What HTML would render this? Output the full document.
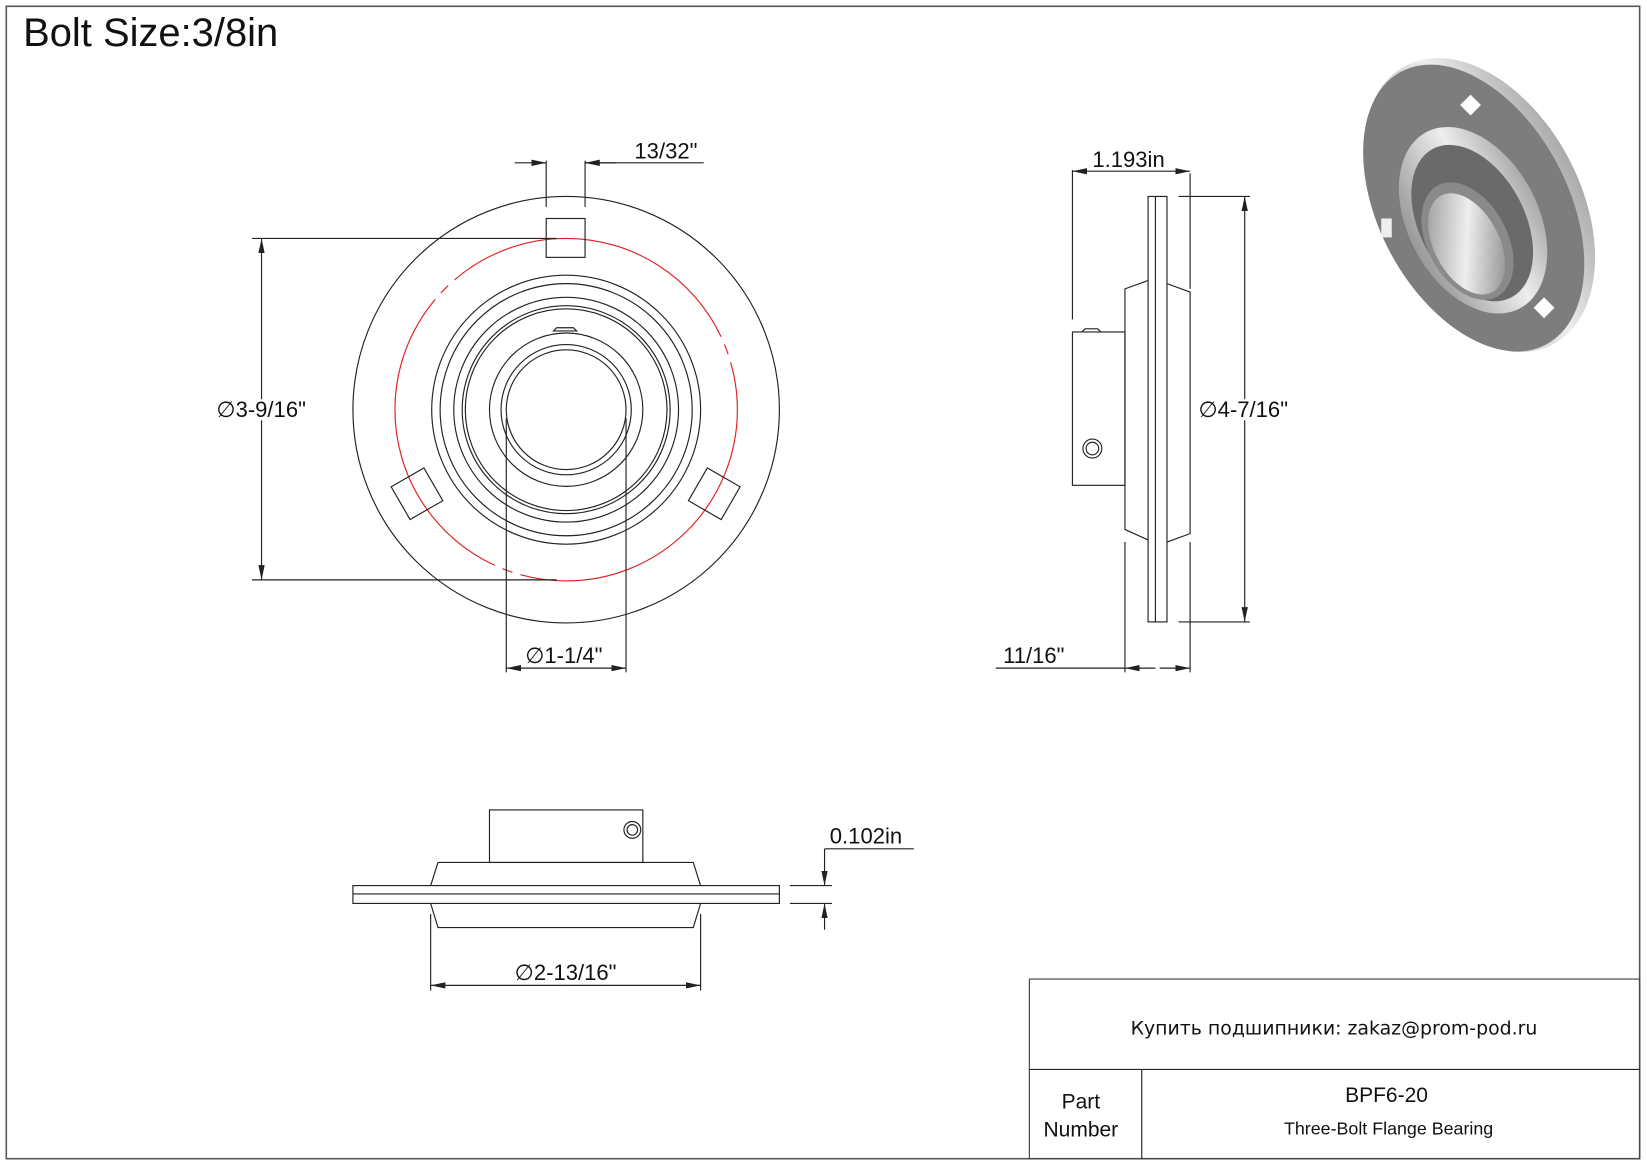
<!DOCTYPE html>
<html><head><meta charset="utf-8"><style>html,body{margin:0;padding:0;background:#fff}svg{display:block}text{font-family:"Liberation Sans",sans-serif;fill:#111}</style></head><body>
<svg width="1647" height="1165" viewBox="0 0 1568 1109" preserveAspectRatio="none" xmlns="http://www.w3.org/2000/svg">
<defs><marker id="a" markerWidth="14" markerHeight="6" refX="14" refY="3" orient="auto" markerUnits="userSpaceOnUse"><path d="M0,0 L14,3 L0,6 z" fill="#222"/></marker>
<linearGradient id="s" x1="0" y1="0" x2="1" y2="1"><stop offset="0" stop-color="#888"/><stop offset="0.5" stop-color="#eee"/><stop offset="1" stop-color="#777"/></linearGradient>
<linearGradient id="r" x1="0" y1="0" x2="1" y2="0"><stop offset="0" stop-color="#999"/><stop offset="0.6" stop-color="#eee"/><stop offset="1" stop-color="#aaa"/></linearGradient></defs>
<rect x="6" y="6" width="1555" height="1097" fill="none" stroke="#555" stroke-width="1.5"/>
<text x="22" y="44" font-size="38">Bolt Size:3/8in</text>
<g fill="none" stroke="#222" stroke-width="1.1">
<circle cx="539" cy="390" r="203"/>
<circle cx="539" cy="390" r="163" stroke="#e02020" stroke-dasharray="300 8 10 8"/>
<circle cx="539" cy="390" r="128"/><circle cx="539" cy="390" r="120"/><circle cx="539" cy="390" r="107"/>
<circle cx="539" cy="390" r="99"/><circle cx="539" cy="390" r="96"/><circle cx="539" cy="390" r="73"/>
<circle cx="539" cy="390" r="62"/><circle cx="539" cy="390" r="57"/>
<rect x="520" y="208" width="37" height="37"/>
<rect x="-18" y="-18" width="36" height="36" transform="translate(397,470) rotate(-30)"/>
<rect x="-18" y="-18" width="36" height="36" transform="translate(680,470) rotate(30)"/>
<path d="M527,315 l3,-3 h16 l3,3 z"/>
<line x1="520" y1="153" x2="520" y2="197"/><line x1="557" y1="153" x2="557" y2="197"/>
<line x1="490" y1="155" x2="520" y2="155" marker-end="url(#a)"/><line x1="587" y1="155" x2="557" y2="155" marker-end="url(#a)"/>
<line x1="557" y1="155" x2="670" y2="155"/>
<line x1="240" y1="227" x2="530" y2="227"/><line x1="240" y1="552" x2="530" y2="552"/>
<line x1="249" y1="380" x2="249" y2="227" marker-end="url(#a)"/><line x1="249" y1="400" x2="249" y2="552" marker-end="url(#a)"/>
<line x1="482" y1="398" x2="482" y2="640"/><line x1="596" y1="398" x2="596" y2="640"/>
<line x1="539" y1="636" x2="482" y2="636" marker-end="url(#a)"/><line x1="539" y1="636" x2="596" y2="636" marker-end="url(#a)"/>
<rect x="1093" y="187" width="18" height="405"/><line x1="1100" y1="187" x2="1100" y2="592"/>
<path d="M1093,267 L1071,275 V504 L1093,514"/><path d="M1111,270 L1133,278 V508 L1111,516"/>
<rect x="1021" y="316" width="50" height="146"/>
<path d="M1030,316 l3,-3 h12 l3,3"/>
<circle cx="1040" cy="427" r="9"/><circle cx="1040" cy="427" r="6"/>
<line x1="1021" y1="162" x2="1021" y2="304"/><line x1="1133" y1="165" x2="1133" y2="275"/>
<line x1="1077" y1="163" x2="1021" y2="163" marker-end="url(#a)"/><line x1="1077" y1="163" x2="1133" y2="163" marker-end="url(#a)"/>
<line x1="1122" y1="187" x2="1190" y2="187"/><line x1="1122" y1="592" x2="1190" y2="592"/>
<line x1="1185" y1="380" x2="1185" y2="187" marker-end="url(#a)"/><line x1="1185" y1="400" x2="1185" y2="592" marker-end="url(#a)"/>
<line x1="1071" y1="516" x2="1071" y2="640"/><line x1="1133" y1="516" x2="1133" y2="640"/>
<line x1="948" y1="636" x2="1071" y2="636"/><line x1="1100" y1="636" x2="1071" y2="636" marker-end="url(#a)"/><line x1="1104" y1="636" x2="1133" y2="636" marker-end="url(#a)"/>
<rect x="336" y="843" width="406" height="17"/><line x1="336" y1="851" x2="742" y2="851"/>
<path d="M410,843 L417,821 H660 L667,843"/><path d="M410,860 L417,883 H660 L667,860"/>
<rect x="466" y="771" width="146" height="50"/>
<circle cx="602" cy="790" r="8"/><circle cx="602" cy="790" r="5"/>
<line x1="410" y1="870" x2="410" y2="943"/><line x1="667" y1="870" x2="667" y2="943"/>
<line x1="539" y1="938" x2="410" y2="938" marker-end="url(#a)"/><line x1="539" y1="938" x2="667" y2="938" marker-end="url(#a)"/>
<line x1="752" y1="843" x2="792" y2="843"/><line x1="752" y1="860" x2="792" y2="860"/>
<line x1="785" y1="808" x2="785" y2="843" marker-end="url(#a)"/><line x1="785" y1="885" x2="785" y2="860" marker-end="url(#a)"/>
<line x1="785" y1="808" x2="870" y2="808"/>
<rect x="980" y="932" width="581" height="171" stroke="#444"/>
<line x1="980" y1="1018" x2="1561" y2="1018"/><line x1="1087" y1="1018" x2="1087" y2="1103"/>
</g>
<g font-size="21">
<text x="604" y="151">13/32"</text>
<text x="206" y="397">∅3-9/16"</text>
<text x="500" y="631">∅1-1/4"</text>
<text x="1040" y="159">1.193in</text>
<text x="1141" y="397">∅4-7/16"</text>
<text x="955" y="631">11/16"</text>
<text x="490" y="933">∅2-13/16"</text>
<text x="790" y="803">0.102in</text>
</g>
<text x="1270" y="985" font-size="18" text-anchor="middle" style='font-family:"DejaVu Sans",sans-serif'>Купить подшипники: zakaz@prom-pod.ru</text>
<text x="1029" y="1055" font-size="20" text-anchor="middle">Part</text>
<text x="1029" y="1082" font-size="20" text-anchor="middle">Number</text>
<text x="1320" y="1049" font-size="20" text-anchor="middle">BPF6-20</text>
<text x="1322" y="1080" font-size="17" text-anchor="middle">Three-Bolt Flange Bearing</text>
<g transform="translate(1403,198) rotate(-28)">
<ellipse cx="6" cy="0" rx="96" ry="150" fill="url(#r)"/>
<ellipse cx="0" cy="0" rx="90" ry="147" fill="#7d7d7d"/>
<ellipse cx="-6" cy="10" rx="62" ry="95" fill="url(#r)"/>
<ellipse cx="-8" cy="12" rx="50" ry="80" fill="#6a6a6a"/>
<ellipse cx="-20" cy="25" rx="38" ry="60" fill="#8a8a8a"/>
<ellipse cx="-22" cy="27" rx="31" ry="52" fill="url(#s)"/>
</g>
<rect x="1393" y="93" width="14" height="14" fill="#fff" transform="rotate(45 1400 100)"/>
<rect x="1463" y="286" width="14" height="14" fill="#fff" transform="rotate(45 1470 293)"/>
<rect x="1315" y="208" width="10" height="18" fill="#eee"/>
</svg>
</body></html>
